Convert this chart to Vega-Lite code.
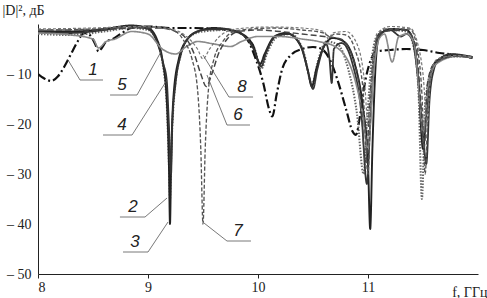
{
"$schema": "https://vega.github.io/schema/vega-lite/v6.json",
"width": 440, "height": 250,
"autosize": "none",
"padding": {"left": 38, "top": 24, "right": 9, "bottom": 24},
"background": "white",
"config": {"view": {"stroke": null}, "axis": {"grid": false, "domainColor": "#222", "tickColor": "#222", "labelColor": "#222", "titleColor": "#222", "labelFontSize": 14, "titleFontSize": 14, "titleFontWeight": "normal"}},
"datasets": {
"curves": [
{"s":"1","f":8.00,"d":-10.0},{"s":"1","f":8.05,"d":-10.8},{"s":"1","f":8.12,"d":-11.4},{"s":"1","f":8.18,"d":-10.5},{"s":"1","f":8.24,"d":-8.5},{"s":"1","f":8.30,"d":-6.0},{"s":"1","f":8.36,"d":-3.5},{"s":"1","f":8.42,"d":-1.8},{"s":"1","f":8.47,"d":-2.2},{"s":"1","f":8.52,"d":-4.0},{"s":"1","f":8.55,"d":-5.5},{"s":"1","f":8.58,"d":-4.8},{"s":"1","f":8.62,"d":-3.5},{"s":"1","f":8.68,"d":-3.0},{"s":"1","f":8.75,"d":-2.0},{"s":"1","f":8.85,"d":-0.8},{"s":"1","f":9.00,"d":-0.5},{"s":"1","f":9.20,"d":-0.8},{"s":"1","f":9.40,"d":-0.8},{"s":"1","f":9.60,"d":-1.0},{"s":"1","f":9.80,"d":-1.5},{"s":"1","f":9.90,"d":-3.0},{"s":"1","f":9.98,"d":-7.0},{"s":"1","f":10.05,"d":-12.0},{"s":"1","f":10.10,"d":-17.0},{"s":"1","f":10.13,"d":-18.5},{"s":"1","f":10.17,"d":-14.0},{"s":"1","f":10.22,"d":-9.0},{"s":"1","f":10.30,"d":-6.2},{"s":"1","f":10.40,"d":-5.0},{"s":"1","f":10.50,"d":-4.6},{"s":"1","f":10.58,"d":-5.0},{"s":"1","f":10.65,"d":-7.0},{"s":"1","f":10.72,"d":-11.0},{"s":"1","f":10.80,"d":-17.0},{"s":"1","f":10.86,"d":-21.5},{"s":"1","f":10.89,"d":-22.2},{"s":"1","f":10.93,"d":-18.0},{"s":"1","f":10.97,"d":-12.0},{"s":"1","f":11.02,"d":-7.5},{"s":"1","f":11.08,"d":-5.5},{"s":"1","f":11.20,"d":-5.2},{"s":"1","f":11.35,"d":-5.0},{"s":"1","f":11.50,"d":-5.2},{"s":"1","f":11.65,"d":-5.8},{"s":"1","f":11.80,"d":-6.2},{"s":"1","f":11.95,"d":-6.8},
{"s":"2","f":8.00,"d":-2.0},{"s":"2","f":8.30,"d":-2.2},{"s":"2","f":8.60,"d":-1.5},{"s":"2","f":8.85,"d":-0.8},{"s":"2","f":9.00,"d":-1.2},{"s":"2","f":9.08,"d":-3.5},{"s":"2","f":9.13,"d":-7.5},{"s":"2","f":9.17,"d":-16.0},{"s":"2","f":9.19,"d":-28.0},{"s":"2","f":9.20,"d":-35.0},{"s":"2","f":9.21,"d":-27.0},{"s":"2","f":9.24,"d":-14.0},{"s":"2","f":9.30,"d":-6.0},{"s":"2","f":9.38,"d":-2.5},{"s":"2","f":9.50,"d":-1.5},{"s":"2","f":9.70,"d":-1.2},{"s":"2","f":9.85,"d":-2.0},{"s":"2","f":9.97,"d":-5.0},{"s":"2","f":10.03,"d":-9.0},{"s":"2","f":10.08,"d":-6.0},{"s":"2","f":10.18,"d":-2.5},{"s":"2","f":10.30,"d":-2.0},{"s":"2","f":10.42,"d":-6.0},{"s":"2","f":10.49,"d":-12.0},{"s":"2","f":10.55,"d":-7.0},{"s":"2","f":10.62,"d":-3.5},{"s":"2","f":10.72,"d":-4.0},{"s":"2","f":10.82,"d":-9.0},{"s":"2","f":10.90,"d":-18.0},{"s":"2","f":10.96,"d":-30.0},{"s":"2","f":10.99,"d":-20.0},{"s":"2","f":11.03,"d":-8.0},{"s":"2","f":11.08,"d":-2.5},{"s":"2","f":11.20,"d":-1.2},{"s":"2","f":11.35,"d":-1.5},{"s":"2","f":11.42,"d":-5.0},{"s":"2","f":11.46,"d":-14.0},{"s":"2","f":11.49,"d":-35.0},{"s":"2","f":11.52,"d":-16.0},{"s":"2","f":11.58,"d":-9.0},{"s":"2","f":11.65,"d":-7.0},{"s":"2","f":11.80,"d":-6.5},{"s":"2","f":11.95,"d":-6.6},
{"s":"3","f":8.00,"d":-1.5},{"s":"3","f":8.30,"d":-1.5},{"s":"3","f":8.60,"d":-1.0},{"s":"3","f":8.85,"d":-0.3},{"s":"3","f":9.00,"d":-0.8},{"s":"3","f":9.08,"d":-3.0},{"s":"3","f":9.13,"d":-7.0},{"s":"3","f":9.17,"d":-15.0},{"s":"3","f":9.19,"d":-28.0},{"s":"3","f":9.20,"d":-40.0},{"s":"3","f":9.21,"d":-28.0},{"s":"3","f":9.23,"d":-15.0},{"s":"3","f":9.28,"d":-7.0},{"s":"3","f":9.36,"d":-3.0},{"s":"3","f":9.45,"d":-1.5},{"s":"3","f":9.60,"d":-0.8},{"s":"3","f":9.80,"d":-1.5},{"s":"3","f":9.95,"d":-4.0},{"s":"3","f":10.02,"d":-8.0},{"s":"3","f":10.06,"d":-6.0},{"s":"3","f":10.15,"d":-2.5},{"s":"3","f":10.25,"d":-1.8},{"s":"3","f":10.38,"d":-4.0},{"s":"3","f":10.45,"d":-9.0},{"s":"3","f":10.49,"d":-12.5},{"s":"3","f":10.53,"d":-9.0},{"s":"3","f":10.60,"d":-4.5},{"s":"3","f":10.68,"d":-2.8},{"s":"3","f":10.78,"d":-3.5},{"s":"3","f":10.88,"d":-8.0},{"s":"3","f":10.95,"d":-16.0},{"s":"3","f":11.00,"d":-28.0},{"s":"3","f":11.02,"d":-41.0},{"s":"3","f":11.04,"d":-25.0},{"s":"3","f":11.07,"d":-8.0},{"s":"3","f":11.10,"d":-2.5},{"s":"3","f":11.20,"d":-1.0},{"s":"3","f":11.35,"d":-1.2},{"s":"3","f":11.42,"d":-4.0},{"s":"3","f":11.46,"d":-12.0},{"s":"3","f":11.50,"d":-25.0},{"s":"3","f":11.53,"d":-18.0},{"s":"3","f":11.57,"d":-10.0},{"s":"3","f":11.62,"d":-7.5},{"s":"3","f":11.75,"d":-6.2},{"s":"3","f":11.95,"d":-6.6},
{"s":"4","f":8.00,"d":-1.6},{"s":"4","f":8.30,"d":-1.8},{"s":"4","f":8.60,"d":-1.2},{"s":"4","f":8.85,"d":-0.4},{"s":"4","f":9.00,"d":-1.0},{"s":"4","f":9.08,"d":-3.5},{"s":"4","f":9.14,"d":-8.0},{"s":"4","f":9.17,"d":-11.2},{"s":"4","f":9.19,"d":-20.0},{"s":"4","f":9.21,"d":-30.0},{"s":"4","f":9.22,"d":-20.0},{"s":"4","f":9.25,"d":-12.0},{"s":"4","f":9.30,"d":-6.0},{"s":"4","f":9.38,"d":-2.5},{"s":"4","f":9.50,"d":-1.2},{"s":"4","f":9.70,"d":-1.0},{"s":"4","f":9.85,"d":-2.0},{"s":"4","f":9.96,"d":-5.0},{"s":"4","f":10.03,"d":-8.5},{"s":"4","f":10.07,"d":-6.0},{"s":"4","f":10.16,"d":-2.5},{"s":"4","f":10.28,"d":-2.0},{"s":"4","f":10.40,"d":-5.0},{"s":"4","f":10.46,"d":-10.0},{"s":"4","f":10.50,"d":-13.0},{"s":"4","f":10.54,"d":-9.0},{"s":"4","f":10.62,"d":-4.0},{"s":"4","f":10.65,"d":-7.0},{"s":"4","f":10.67,"d":-11.8},{"s":"4","f":10.69,"d":-5.0},{"s":"4","f":10.76,"d":-3.8},{"s":"4","f":10.86,"d":-8.0},{"s":"4","f":10.94,"d":-18.0},{"s":"4","f":10.99,"d":-32.0},{"s":"4","f":11.02,"d":-20.0},{"s":"4","f":11.06,"d":-6.0},{"s":"4","f":11.10,"d":-2.0},{"s":"4","f":11.20,"d":-1.2},{"s":"4","f":11.30,"d":-2.5},{"s":"4","f":11.35,"d":-2.0},{"s":"4","f":11.40,"d":-3.0},{"s":"4","f":11.45,"d":-10.0},{"s":"4","f":11.50,"d":-22.0},{"s":"4","f":11.53,"d":-28.0},{"s":"4","f":11.56,"d":-15.0},{"s":"4","f":11.60,"d":-9.0},{"s":"4","f":11.63,"d":-7.6},{"s":"4","f":11.75,"d":-6.0},{"s":"4","f":11.95,"d":-6.6},
{"s":"5","f":8.00,"d":-1.8},{"s":"5","f":8.30,"d":-2.2},{"s":"5","f":8.50,"d":-3.0},{"s":"5","f":8.55,"d":-4.8},{"s":"5","f":8.62,"d":-3.5},{"s":"5","f":8.70,"d":-3.0},{"s":"5","f":8.85,"d":-1.5},{"s":"5","f":9.00,"d":-2.0},{"s":"5","f":9.13,"d":-5.0},{"s":"5","f":9.25,"d":-6.0},{"s":"5","f":9.35,"d":-4.5},{"s":"5","f":9.45,"d":-3.5},{"s":"5","f":9.60,"d":-4.0},{"s":"5","f":9.75,"d":-4.5},{"s":"5","f":9.85,"d":-3.5},{"s":"5","f":10.00,"d":-2.5},{"s":"5","f":10.20,"d":-2.5},{"s":"5","f":10.40,"d":-3.0},{"s":"5","f":10.55,"d":-3.5},{"s":"5","f":10.70,"d":-4.5},{"s":"5","f":10.85,"d":-9.0},{"s":"5","f":10.95,"d":-18.0},{"s":"5","f":11.00,"d":-25.0},{"s":"5","f":11.05,"d":-10.0},{"s":"5","f":11.10,"d":-3.0},{"s":"5","f":11.15,"d":-2.0},{"s":"5","f":11.22,"d":-7.6},{"s":"5","f":11.28,"d":-2.5},{"s":"5","f":11.36,"d":-2.0},{"s":"5","f":11.42,"d":-4.0},{"s":"5","f":11.47,"d":-15.0},{"s":"5","f":11.50,"d":-22.0},{"s":"5","f":11.55,"d":-12.0},{"s":"5","f":11.62,"d":-8.0},{"s":"5","f":11.80,"d":-6.5},{"s":"5","f":11.95,"d":-6.7},
{"s":"6","f":8.00,"d":-1.2},{"s":"6","f":8.50,"d":-1.2},{"s":"6","f":8.90,"d":-0.8},{"s":"6","f":9.10,"d":-0.8},{"s":"6","f":9.25,"d":-1.5},{"s":"6","f":9.35,"d":-3.0},{"s":"6","f":9.42,"d":-6.0},{"s":"6","f":9.48,"d":-10.0},{"s":"6","f":9.53,"d":-12.5},{"s":"6","f":9.58,"d":-10.0},{"s":"6","f":9.64,"d":-6.0},{"s":"6","f":9.72,"d":-3.0},{"s":"6","f":9.82,"d":-1.5},{"s":"6","f":10.00,"d":-1.2},{"s":"6","f":10.20,"d":-1.5},{"s":"6","f":10.40,"d":-2.0},{"s":"6","f":10.60,"d":-2.5},{"s":"6","f":10.75,"d":-3.0},{"s":"6","f":10.85,"d":-6.0},{"s":"6","f":10.93,"d":-14.0},{"s":"6","f":10.98,"d":-28.0},{"s":"6","f":11.02,"d":-14.0},{"s":"6","f":11.07,"d":-4.0},{"s":"6","f":11.15,"d":-1.5},{"s":"6","f":11.35,"d":-1.2},{"s":"6","f":11.44,"d":-5.0},{"s":"6","f":11.48,"d":-16.0},{"s":"6","f":11.51,"d":-25.0},{"s":"6","f":11.54,"d":-12.0},{"s":"6","f":11.60,"d":-8.0},{"s":"6","f":11.80,"d":-6.4},{"s":"6","f":11.95,"d":-6.7},
{"s":"7","f":8.00,"d":-1.3},{"s":"7","f":8.50,"d":-1.0},{"s":"7","f":8.90,"d":-0.6},{"s":"7","f":9.10,"d":-0.6},{"s":"7","f":9.25,"d":-1.5},{"s":"7","f":9.33,"d":-3.5},{"s":"7","f":9.40,"d":-7.0},{"s":"7","f":9.45,"d":-13.0},{"s":"7","f":9.48,"d":-25.0},{"s":"7","f":9.50,"d":-40.0},{"s":"7","f":9.52,"d":-25.0},{"s":"7","f":9.55,"d":-13.0},{"s":"7","f":9.60,"d":-7.0},{"s":"7","f":9.68,"d":-3.5},{"s":"7","f":9.78,"d":-1.5},{"s":"7","f":9.95,"d":-1.0},{"s":"7","f":10.15,"d":-0.8},{"s":"7","f":10.40,"d":-1.2},{"s":"7","f":10.60,"d":-1.8},{"s":"7","f":10.65,"d":-2.5},{"s":"7","f":10.70,"d":-2.0},{"s":"7","f":10.80,"d":-2.2},{"s":"7","f":10.88,"d":-5.0},{"s":"7","f":10.95,"d":-12.0},{"s":"7","f":11.00,"d":-30.0},{"s":"7","f":11.03,"d":-12.0},{"s":"7","f":11.08,"d":-3.0},{"s":"7","f":11.15,"d":-1.0},{"s":"7","f":11.38,"d":-1.0},{"s":"7","f":11.44,"d":-4.0},{"s":"7","f":11.49,"d":-14.0},{"s":"7","f":11.52,"d":-30.0},{"s":"7","f":11.55,"d":-14.0},{"s":"7","f":11.60,"d":-8.0},{"s":"7","f":11.80,"d":-6.4},{"s":"7","f":11.95,"d":-6.7},
{"s":"8","f":8.00,"d":-1.0},{"s":"8","f":8.50,"d":-0.8},{"s":"8","f":8.90,"d":-0.5},{"s":"8","f":9.20,"d":-1.0},{"s":"8","f":9.35,"d":-2.5},{"s":"8","f":9.45,"d":-5.0},{"s":"8","f":9.50,"d":-7.0},{"s":"8","f":9.56,"d":-5.0},{"s":"8","f":9.65,"d":-2.5},{"s":"8","f":9.80,"d":-1.0},{"s":"8","f":10.10,"d":-0.6},{"s":"8","f":10.40,"d":-0.8},{"s":"8","f":10.60,"d":-1.5},{"s":"8","f":10.64,"d":-3.0},{"s":"8","f":10.68,"d":-1.8},{"s":"8","f":10.80,"d":-1.5},{"s":"8","f":10.90,"d":-4.0},{"s":"8","f":10.97,"d":-12.0},{"s":"8","f":11.00,"d":-20.0},{"s":"8","f":11.04,"d":-10.0},{"s":"8","f":11.08,"d":-2.0},{"s":"8","f":11.20,"d":-0.5},{"s":"8","f":11.38,"d":-0.8},{"s":"8","f":11.44,"d":-3.0},{"s":"8","f":11.50,"d":-10.0},{"s":"8","f":11.54,"d":-20.0},{"s":"8","f":11.57,"d":-10.0},{"s":"8","f":11.63,"d":-7.0},{"s":"8","f":11.80,"d":-6.3},{"s":"8","f":11.95,"d":-6.5}
],
"leaders": [
{"k":"1","o":0,"f":8.273,"d":-7.2},{"k":"1","o":1,"f":8.382,"d":-11.2},{"k":"1","o":2,"f":8.591,"d":-11.2},
{"k":"5","o":0,"f":9.127,"d":-5.2},{"k":"5","o":1,"f":8.9,"d":-14.2},{"k":"5","o":2,"f":8.655,"d":-14.2},
{"k":"4","o":0,"f":9.173,"d":-11.2},{"k":"4","o":1,"f":8.855,"d":-22.2},{"k":"4","o":2,"f":8.591,"d":-22.2},
{"k":"8","o":0,"f":9.5,"d":-6.2},{"k":"8","o":1,"f":9.736,"d":-14.6},{"k":"8","o":2,"f":9.955,"d":-14.6},
{"k":"6","o":0,"f":9.536,"d":-10.2},{"k":"6","o":1,"f":9.718,"d":-20.2},{"k":"6","o":2,"f":9.927,"d":-20.2},
{"k":"2","o":0,"f":9.173,"d":-34.8},{"k":"2","o":1,"f":8.973,"d":-38.6},{"k":"2","o":2,"f":8.745,"d":-38.6},
{"k":"3","o":0,"f":9.182,"d":-39.6},{"k":"3","o":1,"f":9.0,"d":-45.6},{"k":"3","o":2,"f":8.773,"d":-45.6},
{"k":"7","o":0,"f":9.509,"d":-39.8},{"k":"7","o":1,"f":9.718,"d":-43.4},{"k":"7","o":2,"f":9.936,"d":-43.4}
],
"labels": [
{"t":"1","f":8.50,"d":-11.2},{"t":"5","f":8.764,"d":-14.2},{"t":"4","f":8.764,"d":-22.2},{"t":"8","f":9.855,"d":-14.6},
{"t":"6","f":9.818,"d":-20.2},{"t":"2","f":8.864,"d":-38.6},{"t":"3","f":8.882,"d":-45.6},{"t":"7","f":9.818,"d":-43.4}
]
},
"layer": [
{
"data": {"name": "curves"},
"mark": {"type": "line", "interpolate": "monotone", "clip": true},
"encoding": {
"x": {"field": "f", "type": "quantitative", "scale": {"domain": [8, 12], "nice": false}, "axis": {"values": [8, 9, 10, 11], "format": "d", "tickSize": 4, "labelPadding": 2, "labelFont": "Liberation Serif", "titleFont": "Liberation Serif", "title": "f, ГГц", "titleAngle": 0, "titleAlign": "right", "titleBaseline": "alphabetic", "titleX": 449, "titleY": 22}},
"y": {"field": "d", "type": "quantitative", "scale": {"domain": [-50, 0], "nice": false}, "axis": {"values": [-10, -20, -30, -40, -50], "ticks": false, "labelPadding": 7, "labelFont": "Liberation Serif", "titleFont": "Liberation Serif", "labelExpr": "'– ' + abs(datum.value)", "title": "|D|², дБ", "titleAngle": 0, "titleAlign": "left", "titleBaseline": "alphabetic", "titleX": -36, "titleY": -10}},
"detail": {"field": "s"},
"color": {"field": "s", "type": "nominal", "legend": null, "scale": {"domain": ["1","2","3","4","5","6","7","8"], "range": ["#111111","#666666","#222222","#333333","#8a8a8a","#444444","#555555","#777777"]}},
"strokeDash": {"field": "s", "type": "nominal", "legend": null, "scale": {"domain": ["1","2","3","4","5","6","7","8"], "range": [[9,3,2,3],[1.5,1.5],[1,0],[1,0],[1,0],[6,3],[4,2],[3,2]]}},
"strokeWidth": {"field": "s", "type": "ordinal", "legend": null, "scale": {"domain": ["1","2","3","4","5","6","7","8"], "range": [2.2, 1.2, 1.4, 1.6, 0.9, 1.2, 1.2, 0.9]}}
}
},
{
"data": {"name": "leaders"},
"mark": {"type": "line", "color": "#555555", "strokeWidth": 0.8},
"encoding": {
"x": {"field": "f", "type": "quantitative"},
"y": {"field": "d", "type": "quantitative"},
"detail": {"field": "k"},
"order": {"field": "o", "type": "quantitative"}
}
},
{
"data": {"name": "labels"},
"mark": {"type": "text", "font": "Liberation Sans", "fontStyle": "italic", "fontSize": 17, "color": "#222222", "baseline": "bottom", "dy": -1},
"encoding": {
"x": {"field": "f", "type": "quantitative"},
"y": {"field": "d", "type": "quantitative"},
"text": {"field": "t"}
}
}
]
}
